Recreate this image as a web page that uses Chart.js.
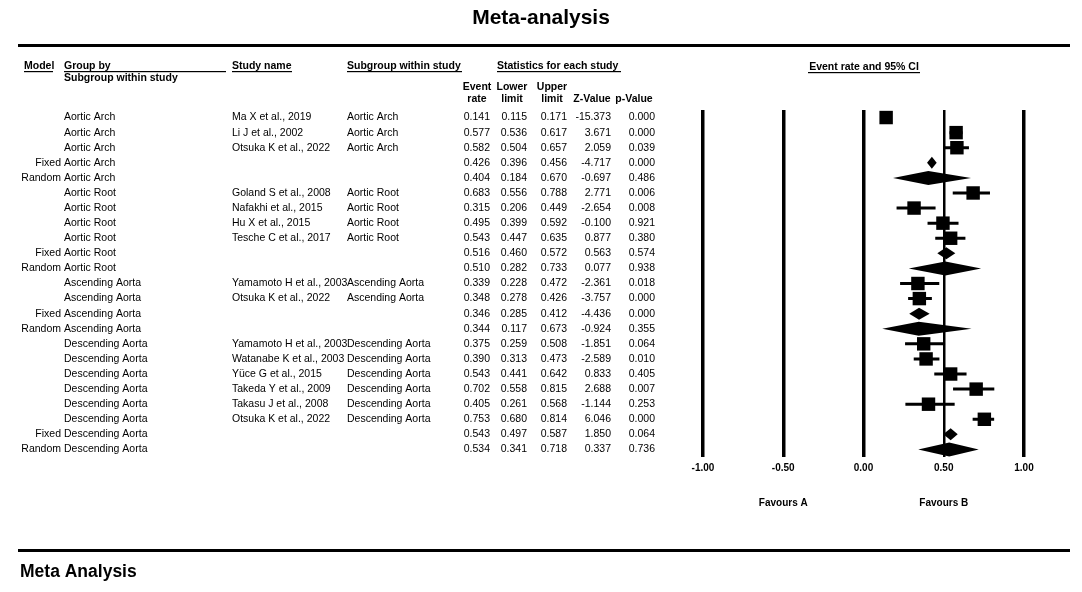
<!DOCTYPE html>
<html>
<head>
<meta charset="utf-8">
<title>Meta-analysis</title>
<script src="https://cdn.jsdelivr.net/npm/chart.js@4.4.1/dist/chart.umd.min.js"></script>
<style>
  html, body { margin: 0; padding: 0; background: #fff; }
  #wrap { position: relative; width: 1082px; height: 592px; }
</style>
</head>
<body>
<div id="wrap"><canvas id="forest"></canvas></div>
<script>
// One entry per row of the forest plot, top to bottom
const modelType = ['', '', '', 'Fixed', 'Random',
    '', '', '', '', 'Fixed', 'Random',
    '', '', 'Fixed', 'Random',
    '', '', '', '', '', '', 'Fixed', 'Random'];
const groupName = ['Aortic Arch', 'Aortic Arch', 'Aortic Arch', 'Aortic Arch', 'Aortic Arch',
    'Aortic Root', 'Aortic Root', 'Aortic Root', 'Aortic Root', 'Aortic Root', 'Aortic Root',
    'Ascending Aorta', 'Ascending Aorta', 'Ascending Aorta', 'Ascending Aorta',
    'Descending Aorta', 'Descending Aorta', 'Descending Aorta', 'Descending Aorta',
    'Descending Aorta', 'Descending Aorta', 'Descending Aorta', 'Descending Aorta'];
const studyName = ['Ma X et al., 2019', 'Li J et al., 2002', 'Otsuka K et al., 2022', '', '',
    'Goland S et al., 2008', 'Nafakhi et al., 2015', 'Hu X et al., 2015', 'Tesche C et al., 2017', '', '',
    'Yamamoto H et al., 2003', 'Otsuka K et al., 2022', '', '',
    'Yamamoto H et al., 2003', 'Watanabe K et al., 2003', 'Yüce G et al., 2015', 'Takeda Y et al., 2009',
    'Takasu J et al., 2008', 'Otsuka K et al., 2022', '', ''];
const eventRate = [0.141, 0.577, 0.582, 0.426, 0.404,
    0.683, 0.315, 0.495, 0.543, 0.516, 0.510,
    0.339, 0.348, 0.346, 0.344,
    0.375, 0.390, 0.543, 0.702, 0.405, 0.753, 0.543, 0.534];
const lowerLimit = [0.115, 0.536, 0.504, 0.396, 0.184,
    0.556, 0.206, 0.399, 0.447, 0.460, 0.282,
    0.228, 0.278, 0.285, 0.117,
    0.259, 0.313, 0.441, 0.558, 0.261, 0.680, 0.497, 0.341];
const upperLimit = [0.171, 0.617, 0.657, 0.456, 0.670,
    0.788, 0.449, 0.592, 0.635, 0.572, 0.733,
    0.472, 0.426, 0.412, 0.673,
    0.508, 0.473, 0.642, 0.815, 0.568, 0.814, 0.587, 0.718];
const zValue = [-15.373, 3.671, 2.059, -4.717, -0.697,
    2.771, -2.654, -0.100, 0.877, 0.563, 0.077,
    -2.361, -3.757, -4.436, -0.924,
    -1.851, -2.589, 0.833, 2.688, -1.144, 6.046, 1.850, 0.337];
const pValue = [0.000, 0.000, 0.039, 0.000, 0.486,
    0.006, 0.008, 0.921, 0.380, 0.574, 0.938,
    0.018, 0.000, 0.000, 0.355,
    0.064, 0.010, 0.405, 0.007, 0.253, 0.000, 0.064, 0.736];
const xTicks = [-1, -0.5, 0, 0.5, 1];
const favourLabels = ['Favours A', 'Favours B'];
const favourAt = [-0.5, 0.5];

const FONT = '"Liberation Sans", Arial, sans-serif';

// squares for single studies, whiskers for their CIs
const studyPoints = [];
const ciSegments = [];
eventRate.forEach((v, i) => {
    if (modelType[i] !== '') return;
    studyPoints.push({ x: v, y: i });
    ciSegments.push({ x: lowerLimit[i], y: i }, { x: upperLimit[i], y: i }, { x: null, y: null });
});

function put(ctx, s, x, y, align, font) {
    ctx.font = font;
    ctx.textAlign = align;
    ctx.fillText(s, x, y);
}
function underline(ctx, x1, x2, y) {
    ctx.fillRect(x1, y, x2 - x1, 1.2);
}

// summary diamonds (fixed / random) drawn on the chart's own scales
const diamondPlugin = {
    id: 'diamonds',
    afterDatasetsDraw(chart) {
        const ctx = chart.ctx, xs = chart.scales.x, ys = chart.scales.y;
        ctx.save();
        ctx.fillStyle = '#000';
        modelType.forEach((m, i) => {
            if (!m) return;
            const half = m === 'Random' ? 7 : 6;
            const y = ys.getPixelForValue(i);
            ctx.beginPath();
            ctx.moveTo(xs.getPixelForValue(lowerLimit[i]), y);
            ctx.lineTo(xs.getPixelForValue(eventRate[i]), y - half);
            ctx.lineTo(xs.getPixelForValue(upperLimit[i]), y);
            ctx.lineTo(xs.getPixelForValue(eventRate[i]), y + half);
            ctx.closePath();
            ctx.fill();
        });
        ctx.restore();
    }
};

// the table on the left, titles and rules
const tablePlugin = {
    id: 'table',
    afterDraw(chart) {
        const ctx = chart.ctx, xs = chart.scales.x, ys = chart.scales.y;
        const body = '10.5px ' + FONT;
        const bold = 'bold 10.5px ' + FONT;
        ctx.save();
        ctx.fillStyle = '#000';
        ctx.textBaseline = 'middle';

        put(ctx, 'Meta-analysis', 541, 18, 'center', 'bold 21px ' + FONT);
        ctx.fillRect(18, 44, 1052, 3);
        ctx.fillRect(18, 549, 1052, 3);
        put(ctx, 'Meta Analysis', 20, 572, 'left', 'bold 17.5px ' + FONT);

        // column headers
        put(ctx, 'Model', 24, 66, 'left', bold); underline(ctx, 24, 53, 71);
        put(ctx, 'Group by', 64, 66, 'left', bold); underline(ctx, 64, 226, 71);
        put(ctx, 'Subgroup within study', 64, 78, 'left', bold);
        put(ctx, 'Study name', 232, 66, 'left', bold); underline(ctx, 232, 292, 71);
        put(ctx, 'Subgroup within study', 347, 66, 'left', bold); underline(ctx, 347, 462, 71);
        put(ctx, 'Statistics for each study', 497, 66, 'left', bold); underline(ctx, 497, 621, 71);
        put(ctx, 'Event rate and 95% CI', 864, 67, 'center', bold); underline(ctx, 808, 920, 72);

        const colRight = [490, 527, 567, 611, 655];
        const colMid = [477, 512, 552, 592, 634];
        put(ctx, 'Event', colMid[0], 87, 'center', bold);
        put(ctx, 'Lower', colMid[1], 87, 'center', bold);
        put(ctx, 'Upper', colMid[2], 87, 'center', bold);
        put(ctx, 'rate', colMid[0], 99, 'center', bold);
        put(ctx, 'limit', colMid[1], 99, 'center', bold);
        put(ctx, 'limit', colMid[2], 99, 'center', bold);
        put(ctx, 'Z-Value', colMid[3], 99, 'center', bold);
        put(ctx, 'p-Value', colMid[4], 99, 'center', bold);

        // rows, placed on the chart's y scale
        groupName.forEach((g, i) => {
            const y = ys.getPixelForValue(i);
            if (modelType[i]) put(ctx, modelType[i], 61, y, 'right', body);
            put(ctx, g, 64, y, 'left', body);
            if (studyName[i]) {
                put(ctx, studyName[i], 232, y, 'left', body);
                put(ctx, g, 347, y, 'left', body);
            }
            const vals = [eventRate[i], lowerLimit[i], upperLimit[i], zValue[i], pValue[i]];
            vals.forEach((v, k) => put(ctx, v.toFixed(3), colRight[k], y, 'right', body));
        });

        // favours labels under the axis
        favourLabels.forEach((s, k) => {
            put(ctx, s, xs.getPixelForValue(favourAt[k]), 503, 'center', 'bold 10px ' + FONT);
        });
        ctx.restore();
    }
};

new Chart(document.getElementById('forest'), {
    type: 'scatter',
    data: {
        datasets: [{
            data: studyPoints,
            pointStyle: 'rect',
            pointRadius: 9.5,
            pointHoverRadius: 9.5,
            backgroundColor: '#000',
            borderColor: '#000',
            borderWidth: 0
        }, {
            data: ciSegments,
            showLine: true,
            spanGaps: false,
            pointRadius: 0,
            borderColor: '#000',
            borderWidth: 3
        }]
    },
    options: {
        responsive: true,
        maintainAspectRatio: false,
        animation: false,
        events: [],
        layout: { padding: { left: 703, right: 58, top: 110, bottom: 0 } },
        plugins: { legend: { display: false }, tooltip: { enabled: false } },
        scales: {
            x: {
                type: 'linear',
                min: -1,
                max: 1,
                afterBuildTicks: (scale) => { scale.ticks = xTicks.map(v => ({ value: v })); },
                afterFit: (scale) => { scale.height = 135; },
                border: { display: false },
                grid: {
                    color: '#000',
                    drawTicks: false,
                    lineWidth: (c) => (c.tick && c.tick.value === 0.5 ? 2.5 : 3.5)
                },
                ticks: {
                    padding: 5,
                    color: '#000',
                    font: { family: FONT, size: 10, weight: 'bold' },
                    callback: (v) => Number(v).toFixed(2)
                }
            },
            y: {
                type: 'linear',
                display: false,
                reverse: true,
                min: -0.5,
                max: groupName.length - 0.5
            }
        }
    },
    plugins: [diamondPlugin, tablePlugin]
});
</script>
</body>
</html>
